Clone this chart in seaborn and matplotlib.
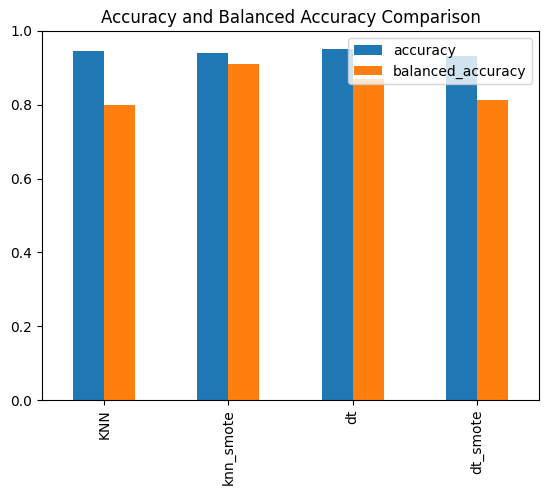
import matplotlib
matplotlib.use("Agg")
import matplotlib.pyplot as plt
import seaborn as sns
import pandas as pd

models = ["KNN", "knn_smote", "dt", "dt_smote"]
accuracy = [0.945, 0.941, 0.952, 0.932]
balanced_accuracy = [0.800, 0.911, 0.870, 0.812]

df = pd.DataFrame({"model": models, "accuracy": accuracy, "balanced_accuracy": balanced_accuracy})
long = df.melt(id_vars="model", var_name="metric", value_name="value")

fig = plt.figure(figsize=(5.47, 4.95), dpi=100)
ax = fig.add_axes([42/547, 95/495, 497/547, 369/495])
sns.barplot(data=long, x="model", y="value", hue="metric", order=models,
            palette=["#1f77b4", "#ff7f0e"], width=0.5, saturation=1, ax=ax)
for p in ax.patches:
    p.set_edgecolor("none")
ax.set_ylim(0, 1.0)
ax.set_xlabel("")
ax.set_ylabel("")
ax.set_title("Accuracy and Balanced Accuracy Comparison")
ax.tick_params(axis="x", rotation=90)
ax.legend(loc="upper right", title=None)
fig.savefig("out.png", dpi=100)
